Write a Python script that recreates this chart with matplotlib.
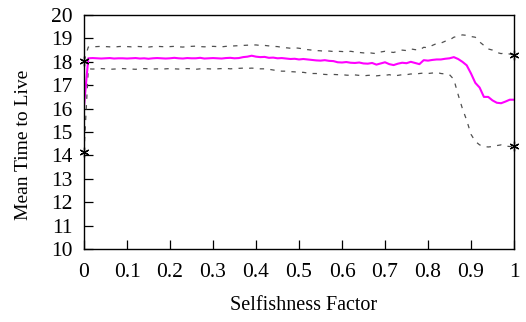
import numpy as np
import matplotlib
matplotlib.use("Agg")
import matplotlib.pyplot as plt

# selfishness factor, step 0.01
x = np.linspace(0, 1, 101)

mean_ttl = [16.1,
            18.15, 18.16, 18.15, 18.14, 18.15, 18.16, 18.14, 18.15, 18.15,
            18.14, 18.15, 18.16, 18.14, 18.15, 18.13, 18.15, 18.16, 18.15, 18.14,
            18.15, 18.17, 18.15, 18.14, 18.16, 18.15, 18.15, 18.17, 18.14, 18.15,
            18.16, 18.15, 18.14, 18.16, 18.17, 18.15, 18.16, 18.2, 18.22, 18.26,
            18.22, 18.2, 18.21, 18.17, 18.18, 18.15, 18.16, 18.14, 18.12, 18.13,
            18.1, 18.12, 18.1, 18.08, 18.06, 18.05, 18.07, 18.04, 18.03, 17.98,
            17.97, 17.99, 17.96, 17.95, 17.97, 17.93, 17.92, 17.95, 17.88, 17.93,
            17.98, 17.9, 17.86, 17.92, 17.96, 17.94, 18.0, 17.95, 17.9, 18.07,
            18.05, 18.08, 18.1, 18.1, 18.13, 18.15, 18.2, 18.12, 18.0, 17.85,
            17.5, 17.1, 16.9, 16.5, 16.5, 16.35, 16.25, 16.23, 16.3, 16.38, 16.38]

upper = [18.05,
         18.63, 18.64, 18.65, 18.66, 18.65, 18.64, 18.63, 18.65, 18.66,
         18.65, 18.64, 18.66, 18.65, 18.64, 18.63, 18.65, 18.66, 18.65, 18.64,
         18.65, 18.66, 18.64, 18.63, 18.65, 18.66, 18.67, 18.65, 18.64, 18.65,
         18.66, 18.65, 18.64, 18.66, 18.67, 18.68, 18.69, 18.7, 18.71, 18.72,
         18.72, 18.7, 18.7, 18.68, 18.66, 18.65, 18.62, 18.6, 18.58, 18.6,
         18.58, 18.55, 18.52, 18.5, 18.48, 18.47, 18.45, 18.46, 18.44, 18.45,
         18.44, 18.42, 18.45, 18.42, 18.4, 18.38, 18.4, 18.37, 18.35, 18.42,
         18.45, 18.42, 18.4, 18.45, 18.5, 18.48, 18.55, 18.52, 18.5, 18.62,
         18.6, 18.7, 18.78, 18.8, 18.88, 18.93, 19.05, 19.1, 19.15, 19.13,
         19.08, 19.05, 18.85, 18.7, 18.55, 18.5, 18.4, 18.35, 18.38, 18.33, 18.29]

lower = [14.15,
         17.7, 17.69, 17.7, 17.71, 17.7, 17.68, 17.69, 17.7, 17.71,
         17.7, 17.69, 17.68, 17.7, 17.71, 17.7, 17.69, 17.7, 17.68, 17.7,
         17.71, 17.7, 17.69, 17.7, 17.71, 17.7, 17.68, 17.7, 17.71, 17.7,
         17.69, 17.7, 17.71, 17.72, 17.7, 17.71, 17.72, 17.73, 17.72, 17.73,
         17.72, 17.7, 17.7, 17.68, 17.65, 17.62, 17.6, 17.6, 17.58, 17.57,
         17.55, 17.55, 17.52, 17.5, 17.5, 17.48, 17.46, 17.45, 17.46, 17.45,
         17.45, 17.43, 17.42, 17.44, 17.42, 17.4, 17.42, 17.43, 17.4, 17.42,
         17.42, 17.45, 17.4, 17.42, 17.45, 17.45, 17.48, 17.47, 17.5, 17.52,
         17.5, 17.52, 17.55, 17.5, 17.48, 17.45, 17.25, 16.6, 16.0, 15.5,
         14.9, 14.6, 14.45, 14.38, 14.36, 14.38, 14.42, 14.45, 14.4, 14.38, 14.4]

xticks = [0, 0.1, 0.2, 0.3, 0.4, 0.5, 0.6, 0.7, 0.8, 0.9, 1]
xtick_labels = ["0", "0.1", "0.2", "0.3", "0.4", "0.5", "0.6", "0.7", "0.8", "0.9", "1"]

plt.rcParams["font.family"] = ["Liberation Serif", "DejaVu Serif"]
plt.rcParams["font.size"] = 15.5

fig = plt.figure(figsize=(5.26, 3.22), dpi=100)
ax = fig.add_axes([0.1597, 0.2267, 0.8175, 0.7267])

dash = (0, (3.5, 5))
ax.plot(x, upper, color="#505050", lw=0.9, linestyle=dash)
ax.plot(x, lower, color="#505050", lw=0.9, linestyle=dash)
ax.plot(x, mean_ttl, color="#ff00ff", lw=1.5)

# end markers of the bounds
ends = [0, -1]
ax.plot([x[i] for i in ends], [upper[i] for i in ends], linestyle="none",
        marker=(6, 2, 0), ms=7, mec="black", mew=0.9, clip_on=False)
ax.plot([x[i] for i in ends], [lower[i] for i in ends], linestyle="none",
        marker=(6, 2, 0), ms=7, mec="black", mew=0.9, clip_on=False)

ax.set_xlim(0, 1)
ax.set_ylim(10, 20)
ax.set_xticks(xticks)
ax.set_xticklabels(xtick_labels)
ax.set_yticks(range(10, 21))
ax.tick_params(direction="in", length=6.5, width=0.9, top=False, right=False)
ax.tick_params(axis="x", pad=10)
ax.tick_params(axis="y", pad=8.5)
for s in ax.spines.values():
    s.set_linewidth(1.0)

ax.set_xlabel("Selfishness Factor", fontsize=14.5)
ax.set_ylabel("Mean Time to Live", fontsize=14)
ax.xaxis.set_label_coords(0.51, -0.2)
ax.yaxis.set_label_coords(-0.12, 0.445)

fig.savefig("out.png", dpi=100)
